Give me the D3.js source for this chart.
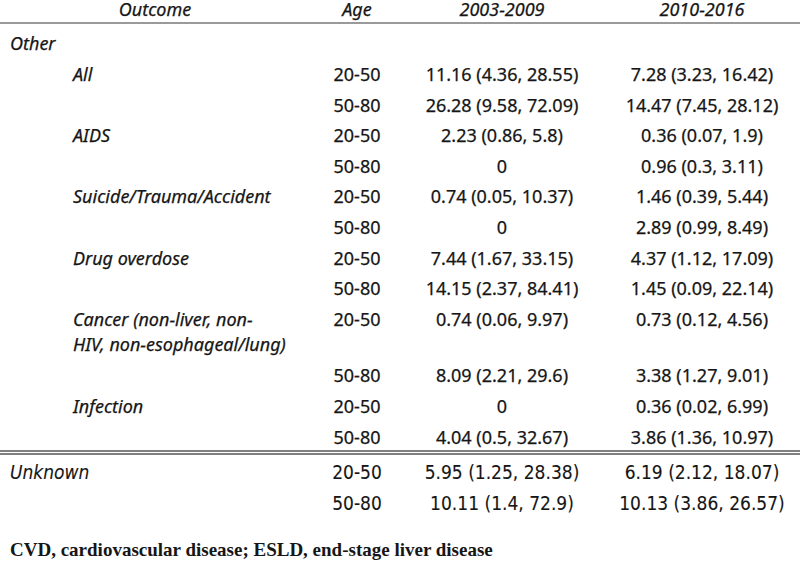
<!DOCTYPE html>
<html>
<head>
<meta charset="utf-8">
<script src="https://cdn.jsdelivr.net/npm/d3@7"></script>
<style>
  body { margin: 0; background: #fff; }
  text { fill: #161616; }
  .hdr, .lbl { font-family: "Noto Sans", "Open Sans", sans-serif; font-style: italic; }
  .num { font-family: "Noto Sans", "Open Sans", sans-serif; }
  .hdr, .lbl, .num { stroke: #161616; stroke-width: 0.25px; }
  .unk { font-family: "Liberation Sans Narrow", "DejaVu Sans Condensed", sans-serif; stroke-width: 0.1px; }
  .foot { font-family: "Liberation Serif", serif; font-weight: bold; }
</style>
</head>
<body>
<div id="chart"></div>
<script>
const width = 800,
  height = 565;

const headers = ["Outcome", "Age", "2003-2009", "2010-2016"];
const outcomes = ["All", "AIDS", "Suicide/Trauma/Accident", "Drug overdose",
  "Cancer (non-liver, non-|HIV, non-esophageal/lung)", "Infection"];
const ages = ["20-50", "50-80"];
const early = ["11.16 (4.36, 28.55)", "26.28 (9.58, 72.09)", "2.23 (0.86, 5.8)", "0",
  "0.74 (0.05, 10.37)", "0", "7.44 (1.67, 33.15)", "14.15 (2.37, 84.41)",
  "0.74 (0.06, 9.97)", "8.09 (2.21, 29.6)", "0", "4.04 (0.5, 32.67)"];
const late = ["7.28 (3.23, 16.42)", "14.47 (7.45, 28.12)", "0.36 (0.07, 1.9)", "0.96 (0.3, 3.11)",
  "1.46 (0.39, 5.44)", "2.89 (0.99, 8.49)", "4.37 (1.12, 17.09)", "1.45 (0.09, 22.14)",
  "0.73 (0.12, 4.56)", "3.38 (1.27, 9.01)", "0.36 (0.02, 6.99)", "3.86 (1.36, 10.97)"];
const unknownEarly = ["5.95 (1.25, 28.38)", "10.11 (1.4, 72.9)"];
const unknownLate = ["6.19 (2.12, 18.07)", "10.13 (3.86, 26.57)"];
const footnote = "CVD, cardiovascular disease; ESLD, end-stage liver disease";

// row layout in "units", one unit = one table row
const rows = [];
let u = 0;
rows.push({ group: "Other", u: u });
u += 1;
outcomes.forEach((o, i) => {
  ages.forEach((a, j) => {
    const lines = j === 0 ? o.split("|") : [];
    rows.push({ label: lines, age: a, v1: early[i * 2 + j], v2: late[i * 2 + j], u: u });
    u += lines.length > 1 ? 1.85 : 1;
  });
});
const sepU = u - 0.5;
u += 0.15;
ages.forEach((a, j) => {
  rows.push({ group: j === 0 ? "Unknown" : null, age: a, v1: unknownEarly[j], v2: unknownLate[j], u: u, unk: true });
  u += 1;
});
const footU = u + 0.5;

const y = d3.scaleLinear().domain([0, 1]).range([44, 74.6]);
const x = d3.scaleOrdinal().domain(headers).range([155, 357, 502, 702]);

const svg = d3.select("#chart")
  .append("svg")
  .attr("width", width)
  .attr("height", height);

// header
svg.selectAll("text.hdr")
  .data(headers)
  .join("text")
  .attr("class", "hdr")
  .attr("x", d => x(d))
  .attr("y", y(-1.12))
  .attr("dy", "0.35em")
  .attr("text-anchor", "middle")
  .style("font-size", "18px")
  .text(d => d);

svg.append("line")
  .attr("x1", 0).attr("x2", width)
  .attr("y1", y(-0.69)).attr("y2", y(-0.69))
  .attr("stroke", "#9a9a9a")
  .attr("stroke-width", 2);

[-1.5, 1.5].forEach(off => {
  svg.append("line")
    .attr("x1", 0).attr("x2", width)
    .attr("y1", y(sepU) + off).attr("y2", y(sepU) + off)
    .attr("stroke", "#555")
    .attr("stroke-width", 1.4);
});

const row = svg.selectAll("g.row")
  .data(rows)
  .join("g")
  .attr("class", "row")
  .attr("transform", d => `translate(0,${y(d.u)})`);

row.filter(d => d.group)
  .append("text")
  .attr("class", d => d.unk ? "lbl unk" : "lbl")
  .attr("x", 10)
  .attr("dy", "0.35em")
  .style("font-size", d => d.unk ? "19px" : "18px")
  .text(d => d.group);

row.filter(d => d.label && d.label.length)
  .append("text")
  .attr("class", "lbl")
  .style("font-size", "18px")
  .selectAll("tspan")
  .data(d => d.label)
  .join("tspan")
  .attr("x", 73)
  .attr("dy", (d, i) => i === 0 ? "0.35em" : "1.42em")
  .text(d => d);

["age", "v1", "v2"].forEach((k, ci) => {
  row.filter(d => d[k])
    .append("text")
    .attr("class", d => d.unk ? "num unk" : "num")
    .attr("x", x(headers[ci + 1]))
    .attr("dy", "0.35em")
    .attr("text-anchor", "middle")
    .style("font-size", d => d.unk ? "19px" : "18px")
    .text(d => d[k]);
});

svg.append("text")
  .attr("class", "foot")
  .attr("x", 10)
  .attr("y", y(footU))
  .attr("dy", "0.35em")
  .style("font-size", "19px")
  .text(footnote);
</script>
</body>
</html>
